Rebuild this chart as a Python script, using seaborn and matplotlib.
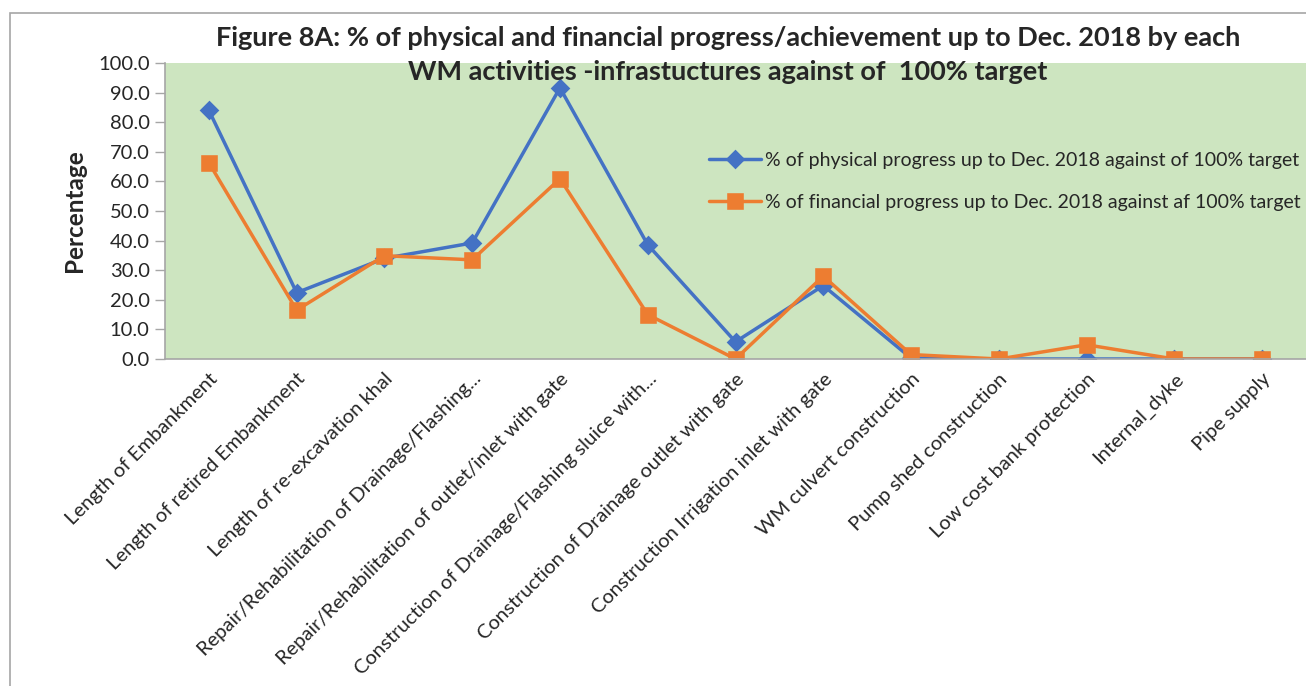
import pandas as pd
import matplotlib.pyplot as plt
import matplotlib.patches as mpatches
from matplotlib.ticker import FixedLocator
import seaborn as sns

# Datos
activities = [
    'Length of Embankment',
    'Length of retired Embankment',
    'Length of re-excavation khal',
    'Repair/Rehabilitation of Drainage/Flashing...',
    'Repair/Rehabilitation of outlet/inlet with gate',
    'Construction of Drainage/Flashing sluice with...',
    'Construction of Drainage outlet with gate',
    'Construction Irrigation inlet with gate',
    'WM culvert construction',
    'Pump shed construction',
    'Low cost bank protection',
    'Internal_dyke',
    'Pipe supply',
]
physical = [84.0, 22.4, 34.0, 39.2, 91.6, 38.6, 5.8, 24.8, 0.3, 0.0, 0.0, 0.0, 0.0]
financial = [66.3, 16.5, 34.9, 33.5, 60.9, 15.0, 0.0, 28.0, 1.5, 0.0, 4.8, 0.0, 0.0]

lab_phys = '% of physical progress up to Dec. 2018 against of 100% target'
lab_fin = '% of financial progress up to Dec. 2018 against af 100% target'

df = pd.DataFrame({
    'Activity': activities * 2,
    'Value': physical + financial,
    'Series': [lab_phys] * len(activities) + [lab_fin] * len(activities),
})

sns.set_style('white')
plt.rcParams['font.family'] = ['Lato', 'DejaVu Sans']

fig = plt.figure(figsize=(13.06, 6.86), dpi=100)
ax = fig.add_axes([165 / 1306, 1 - 359 / 686, 1 - 165 / 1306, 296 / 686])

sns.pointplot(data=df, x='Activity', y='Value', hue='Series',
              order=activities, hue_order=[lab_phys, lab_fin],
              palette=['#4472C4', '#ED7D31'], markers=['D', 's'],
              linestyles=['-', '-'], errorbar=None,
              markersize=8, linewidth=2.5, ax=ax)

ax.set_facecolor('#cde5c0')
ax.set_ylim(0, 100)
ax.set_xlim(-0.5, len(activities) - 0.5)
ax.set_yticks(range(0, 101, 10))
ax.set_yticklabels([f'{v:.1f}' for v in range(0, 101, 10)], fontsize=14.5)
ax.set_xticks(range(len(activities)))
ax.set_xticklabels(activities, rotation=45, ha='right', va='top',
                   rotation_mode='anchor', fontsize=14.5)
ax.xaxis.set_minor_locator(FixedLocator([i - 0.5 for i in range(len(activities) + 1)]))
ax.tick_params(axis='x', which='major', length=0, pad=8)
ax.tick_params(axis='x', which='minor', length=7, color='#a6a6a6', width=1)
ax.tick_params(axis='y', length=7, color='#a6a6a6', width=1, left=True, pad=4)

for s in ['top', 'right']:
    ax.spines[s].set_visible(False)
for s in ['left', 'bottom']:
    ax.spines[s].set_color('#a6a6a6')
    ax.spines[s].set_linewidth(1.2)

ax.set_xlabel('')
ax.set_ylabel('Percentage', fontsize=17.5, fontweight='bold', labelpad=9)

# cuadrados naranjas algo mas grandes que los rombos
for ln in ax.lines:
    if ln.get_marker() == 's':
        ln.set_markersize(10.5)

leg = ax.legend(loc='upper left', bbox_to_anchor=(0.461, 0.76), frameon=False,
                fontsize=14, handlelength=2.7, labelspacing=1.3, handletextpad=0.2)
for h in leg.legend_handles:
    if h.get_marker() == 's':
        h.set_markersize(10.5)

fig.text(728 / 1306, 1 - 55 / 686,
         'Figure 8A: % of physical and financial progress/achievement up to Dec. 2018 by each\n'
         'WM activities -infrastuctures against of  100% target',
         ha='center', va='center', fontsize=19.5, fontweight='bold',
         linespacing=1.46)

border = mpatches.Rectangle((10 / 1306, -0.02), 1.0, 1 - 13 / 686 + 0.02,
                            transform=fig.transFigure, fill=False,
                            edgecolor='#a6a6a6', linewidth=1.2, clip_on=False)
fig.add_artist(border)

fig.savefig('out.png', dpi=100)
